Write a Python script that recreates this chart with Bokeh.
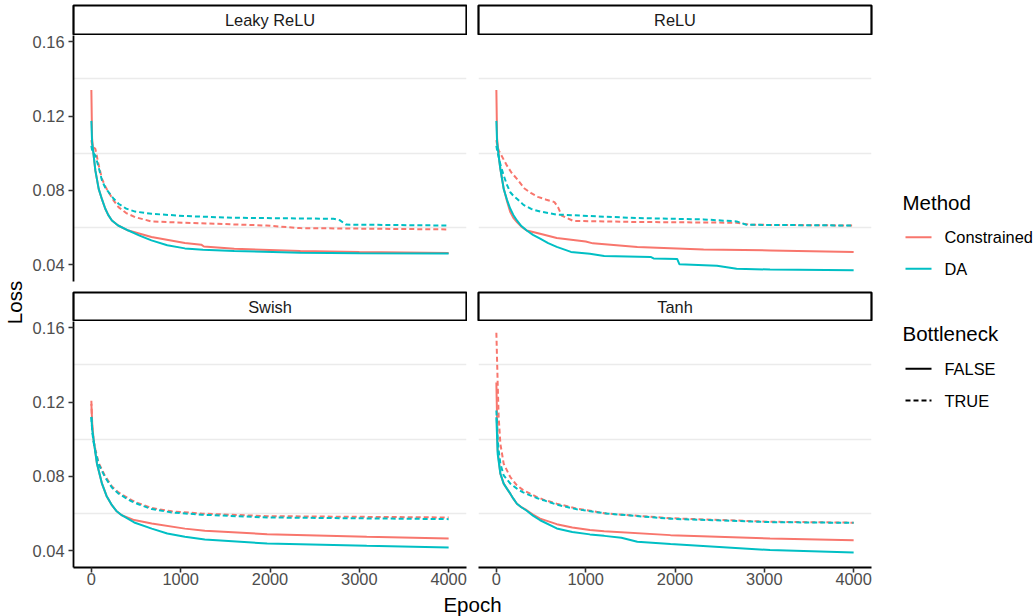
from bokeh.plotting import figure
from bokeh.layouts import row, column
from bokeh.models import Range1d, FixedTicker
from bokeh.embed import file_html
from bokeh.resources import INLINE
from bokeh.core.properties import value

FONT = "Liberation Sans"

# ---------------- data ----------------
activations = ["Leaky ReLU", "ReLU", "Swish", "Tanh"]
methods = ["Constrained", "DA"]
method_colors = ["#F8766D", "#00BFC4"]
bottlenecks = ["FALSE", "TRUE"]
bottleneck_dash = ["solid", "5 3"]
x_ticks = [0, 1000, 2000, 3000, 4000]
x_tick_labels = ["0", "1000", "2000", "3000", "4000"]
y_ticks = [0.04, 0.08, 0.12, 0.16]
y_tick_labels = ["0.04", "0.08", "0.12", "0.16"]
y_grid = [0.06, 0.10, 0.14]

# Leaky ReLU
leaky_con_f_ep = [0, 8, 30, 45, 82, 120, 156, 190, 230, 300, 415, 673, 1047, 1230, 1260, 1600, 2340, 3000, 4000]
leaky_con_f = [0.134, 0.108, 0.0969, 0.0906, 0.0808, 0.075, 0.0701, 0.0667, 0.0638, 0.0611, 0.0584, 0.0549, 0.0517, 0.0508, 0.0498, 0.0486, 0.0474, 0.0468, 0.0463]
leaky_da_f_ep = [0, 8, 30, 45, 82, 120, 156, 190, 230, 300, 415, 540, 673, 850, 1047, 1250, 1600, 2340, 3000, 4000]
leaky_da_f = [0.1174, 0.106, 0.0969, 0.0906, 0.0808, 0.075, 0.0701, 0.0667, 0.0638, 0.0611, 0.0584, 0.0557, 0.0531, 0.0505, 0.0488, 0.048, 0.0474, 0.0465, 0.0462, 0.046]
leaky_con_t_ep = [0, 10, 45, 80, 119, 155, 193, 250, 304, 390, 490, 673, 1047, 1960, 2340, 3080, 4000]
leaky_con_t = [0.107, 0.104, 0.1023, 0.094, 0.0862, 0.0822, 0.079, 0.0745, 0.071, 0.0678, 0.0656, 0.0633, 0.0626, 0.0611, 0.0597, 0.0594, 0.059]
leaky_da_t_ep = [0, 10, 45, 82, 119, 155, 193, 250, 304, 390, 490, 673, 1047, 1578, 2710, 2780, 2850, 4000]
leaky_da_t = [0.104, 0.101, 0.0987, 0.0924, 0.0853, 0.0815, 0.079, 0.0755, 0.0728, 0.0702, 0.0686, 0.0674, 0.0662, 0.0653, 0.0647, 0.064, 0.0616, 0.0611]

# ReLU
relu_con_f_ep = [0, 8, 30, 45, 82, 120, 156, 190, 230, 280, 340, 490, 676, 1000, 1080, 1578, 2320, 3064, 4000]
relu_con_f = [0.134, 0.108, 0.097, 0.0915, 0.081, 0.074, 0.0683, 0.0652, 0.063, 0.0605, 0.0584, 0.0567, 0.0544, 0.0525, 0.0515, 0.0495, 0.0482, 0.0477, 0.0469]
relu_da_f_ep = [0, 8, 30, 45, 82, 120, 156, 190, 230, 280, 340, 410, 490, 580, 676, 835, 1047, 1207, 1727, 1760, 2024, 2050, 2470, 2690, 3064, 4000]
relu_da_f = [0.1174, 0.106, 0.097, 0.0915, 0.0808, 0.0748, 0.0701, 0.0668, 0.0638, 0.0608, 0.0584, 0.0561, 0.054, 0.0516, 0.0496, 0.0469, 0.0459, 0.0447, 0.0442, 0.0434, 0.0431, 0.0402, 0.0394, 0.0379, 0.0374, 0.037]
relu_con_t_ep = [0, 10, 26, 60, 119, 170, 230, 315, 390, 464, 560, 650, 690, 730, 860, 1578, 2690, 2850, 4000]
relu_con_t = [0.107, 0.104, 0.1015, 0.0985, 0.0933, 0.0895, 0.0862, 0.081, 0.0785, 0.0765, 0.075, 0.0737, 0.071, 0.0665, 0.0636, 0.063, 0.0626, 0.0615, 0.0611]
relu_da_t_ep = [0, 10, 26, 50, 82, 120, 156, 190, 230, 304, 390, 490, 676, 1047, 1578, 2320, 2690, 2800, 4000]
relu_da_t = [0.104, 0.101, 0.098, 0.093, 0.088, 0.0828, 0.079, 0.0771, 0.0755, 0.0722, 0.07, 0.0686, 0.067, 0.0662, 0.0651, 0.0644, 0.0633, 0.0615, 0.0611]

# Swish
swish_con_f_ep = [0, 10, 26, 63, 119, 170, 230, 280, 340, 480, 676, 1047, 1270, 1968, 3083, 4000]
swish_con_f = [0.119, 0.108, 0.0993, 0.0868, 0.0761, 0.0695, 0.0645, 0.0614, 0.0591, 0.0565, 0.0546, 0.0519, 0.0507, 0.0489, 0.0475, 0.0466]
swish_da_f_ep = [0, 10, 26, 63, 119, 170, 230, 280, 340, 480, 676, 850, 1047, 1270, 1968, 3083, 4000]
swish_da_f = [0.1118, 0.105, 0.0993, 0.0868, 0.0761, 0.0695, 0.0645, 0.0614, 0.0591, 0.0552, 0.0519, 0.0493, 0.0475, 0.0461, 0.0439, 0.0427, 0.0418]
swish_con_t_ep = [0, 10, 26, 45, 82, 156, 230, 300, 378, 450, 527, 676, 900, 1233, 1968, 4000]
swish_con_t = [0.1207, 0.106, 0.099, 0.0945, 0.0872, 0.08, 0.0746, 0.0715, 0.0692, 0.0672, 0.0656, 0.063, 0.0612, 0.06, 0.0586, 0.0579]
swish_da_t_ep = [0, 10, 26, 45, 82, 156, 230, 300, 378, 450, 527, 676, 900, 1233, 1968, 4000]
swish_da_t = [0.112, 0.104, 0.098, 0.0935, 0.0865, 0.0793, 0.074, 0.0709, 0.0686, 0.0666, 0.065, 0.0624, 0.0606, 0.0594, 0.0579, 0.057]

# Tanh
tanh_con_f_ep = [0, 15, 45, 82, 120, 156, 190, 230, 280, 340, 410, 490, 676, 850, 1047, 1207, 1950, 3064, 4000]
tanh_con_f = [0.1305, 0.0939, 0.0814, 0.0761, 0.0733, 0.0707, 0.068, 0.0653, 0.0634, 0.0618, 0.0594, 0.0573, 0.0543, 0.0525, 0.0511, 0.0505, 0.0484, 0.0466, 0.0457]
tanh_da_f_ep = [0, 15, 45, 82, 120, 156, 190, 230, 280, 340, 410, 490, 676, 850, 1047, 1207, 1400, 1578, 1950, 3064, 4000]
tanh_da_f = [0.1118, 0.092, 0.0814, 0.0761, 0.0733, 0.0707, 0.068, 0.0653, 0.0634, 0.0615, 0.0589, 0.0564, 0.052, 0.0501, 0.0488, 0.048, 0.047, 0.0448, 0.0436, 0.0404, 0.0391]
tanh_con_t_ep = [0, 15, 26, 45, 82, 156, 230, 300, 378, 450, 527, 676, 900, 1233, 1950, 3064, 4000]
tanh_con_t = [0.1573, 0.1296, 0.1118, 0.0975, 0.0868, 0.0796, 0.0752, 0.0726, 0.0707, 0.069, 0.0675, 0.0653, 0.0627, 0.06, 0.0575, 0.0556, 0.0551]
tanh_da_t_ep = [0, 15, 26, 45, 82, 156, 230, 300, 378, 450, 527, 676, 900, 1233, 1950, 3064, 4000]
tanh_da_t = [0.1154, 0.1, 0.0939, 0.0868, 0.0805, 0.0761, 0.0734, 0.0714, 0.0698, 0.0684, 0.0672, 0.0648, 0.0623, 0.06, 0.0572, 0.0554, 0.055]

CURVES = {
    ("Leaky ReLU", "Constrained", "FALSE"): (leaky_con_f_ep, leaky_con_f),
    ("Leaky ReLU", "Constrained", "TRUE"): (leaky_con_t_ep, leaky_con_t),
    ("Leaky ReLU", "DA", "FALSE"): (leaky_da_f_ep, leaky_da_f),
    ("Leaky ReLU", "DA", "TRUE"): (leaky_da_t_ep, leaky_da_t),
    ("ReLU", "Constrained", "FALSE"): (relu_con_f_ep, relu_con_f),
    ("ReLU", "Constrained", "TRUE"): (relu_con_t_ep, relu_con_t),
    ("ReLU", "DA", "FALSE"): (relu_da_f_ep, relu_da_f),
    ("ReLU", "DA", "TRUE"): (relu_da_t_ep, relu_da_t),
    ("Swish", "Constrained", "FALSE"): (swish_con_f_ep, swish_con_f),
    ("Swish", "Constrained", "TRUE"): (swish_con_t_ep, swish_con_t),
    ("Swish", "DA", "FALSE"): (swish_da_f_ep, swish_da_f),
    ("Swish", "DA", "TRUE"): (swish_da_t_ep, swish_da_t),
    ("Tanh", "Constrained", "FALSE"): (tanh_con_f_ep, tanh_con_f),
    ("Tanh", "Constrained", "TRUE"): (tanh_con_t_ep, tanh_con_t),
    ("Tanh", "DA", "FALSE"): (tanh_da_f_ep, tanh_da_f),
    ("Tanh", "DA", "TRUE"): (tanh_da_t_ep, tanh_da_t),
}

# shared (fixed) scales with 5% expansion, like ggplot
all_y = [v for (_, ys) in CURVES.values() for v in ys]
all_x = [v for (xs, _) in CURVES.values() for v in xs]
ylo, yhi = min(all_y), max(all_y)
xlo, xhi = min(all_x), max(all_x)
ypad = 0.05 * (yhi - ylo)
xpad = 0.05 * (xhi - xlo)
YR = (ylo - ypad, yhi + ypad)
XR = (xlo - xpad, xhi + xpad)

# ---------------- layout sizes (pixels) ----------------
LEFT_W, RIGHT_W = 399, 412
LEFT_BL, LEFT_BR = 5, 1
RIGHT_BL, RIGHT_BR = 11, 8
TOP_STRIP_H, TOP_STRIP_PAD = 35, 5
TOP_PANEL_H, TOP_PANEL_BB = 256, 10
BOT_STRIP_H = 30
BOT_PANEL_H, BOT_PANEL_BB = 271, 25
EPOCH_H = 24


def base_fig(width, height, bl, br, bt, bb, xr=None, yr=None,
             xloc=None, yloc=None):
    f = figure(width=width, height=height,
               x_range=xr if xr is not None else Range1d(0, 1),
               y_range=yr if yr is not None else Range1d(0, 1),
               x_axis_location=xloc, y_axis_location=yloc,
               min_border_left=bl, min_border_right=br,
               min_border_top=bt, min_border_bottom=bb,
               output_backend="svg", toolbar_location=None)
    f.outline_line_color = None
    f.background_fill_color = "white"
    f.border_fill_color = "white"
    return f


def style_ticks(ax):
    ax.axis_line_color = "black"
    ax.axis_line_width = 1.8
    ax.major_tick_line_color = "#333333"
    ax.major_tick_line_width = 1.6
    ax.major_tick_out = 5
    ax.major_tick_in = 0
    ax.minor_tick_line_color = None


def style_labels(ax, ticks, labels, standoff):
    ax.ticker = FixedTicker(ticks=ticks)
    ax.major_label_overrides = {t: l for t, l in zip(ticks, labels)}
    ax.major_label_text_font = FONT
    ax.major_label_text_font_size = "16.4px"
    ax.major_label_text_color = "#4D4D4D"
    ax.major_label_standoff = standoff


def panel(act, col, bottom):
    width = LEFT_W if col == 0 else RIGHT_W
    bl = LEFT_BL if col == 0 else RIGHT_BL
    br = LEFT_BR if col == 0 else RIGHT_BR
    height = BOT_PANEL_H if bottom else TOP_PANEL_H
    bb = BOT_PANEL_BB if bottom else TOP_PANEL_BB
    p = base_fig(width, height, bl, br, 0, bb, Range1d(*XR), Range1d(*YR),
                 "below" if bottom else None, "left" if col == 0 else None)
    p.xgrid.visible = False
    p.ygrid.ticker = FixedTicker(ticks=y_grid)
    p.ygrid.grid_line_color = "#EBEBEB"
    p.ygrid.grid_line_width = 1.6
    if bottom:
        ax = p.xaxis[0]
        style_ticks(ax)
        style_labels(ax, x_ticks, x_tick_labels, 0)
    if col == 0:
        # ticks and line only; the tick labels live in the label column
        ay = p.yaxis[0]
        style_ticks(ay)
        ay.ticker = FixedTicker(ticks=y_ticks)
        ay.major_label_overrides = {t: "" for t in y_ticks}
        ay.major_label_standoff = 0
    for mi, m in enumerate(methods):
        for bi, b in enumerate(bottlenecks):
            xs, ys = CURVES[(act, m, b)]
            p.line(xs, ys, line_color=method_colors[mi], line_width=2,
                   line_dash=bottleneck_dash[bi])
    return p


def strip(label, col, height, top):
    width = LEFT_W if col == 0 else RIGHT_W
    bl = LEFT_BL if col == 0 else RIGHT_BL
    br = LEFT_BR if col == 0 else RIGHT_BR
    s = base_fig(width, height, bl, br, top, 1)
    s.xgrid.visible = False
    s.ygrid.visible = False
    s.outline_line_color = "black"
    s.outline_line_width = 2.2
    s.text(x=[0.5], y=[0.5], text=[label], text_align="center",
           text_baseline="middle", text_font=value(FONT),
           text_font_size="16.4px", text_color="#1A1A1A")
    return s


def ylabels(height, top, bottom):
    # a narrow figure that carries only the y tick labels of one panel row
    f = base_fig(40, height, 39, 0, top, bottom, None, Range1d(*YR),
                 None, "left")
    f.xgrid.visible = False
    f.ygrid.visible = False
    ay = f.yaxis[0]
    style_labels(ay, y_ticks, y_tick_labels, 3)
    ay.axis_line_color = None
    ay.major_tick_line_color = None
    ay.minor_tick_line_color = None
    ay.major_tick_out = 0
    ay.major_tick_in = 0
    return f


def blank(width, height):
    f = base_fig(width, height, 0, 0, 0, 0, Range1d(0, width), Range1d(height, 0))
    f.xgrid.visible = False
    f.ygrid.visible = False
    return f


strips_top = [strip(activations[0], 0, TOP_STRIP_H, TOP_STRIP_PAD),
              strip(activations[1], 1, TOP_STRIP_H, TOP_STRIP_PAD)]
panels_top = [panel(activations[0], 0, False), panel(activations[1], 1, False)]
strips_bot = [strip(activations[2], 0, BOT_STRIP_H, 1),
              strip(activations[3], 1, BOT_STRIP_H, 1)]
panels_bot = [panel(activations[2], 0, True), panel(activations[3], 1, True)]

ylab_top = ylabels(TOP_STRIP_H + TOP_PANEL_H, TOP_STRIP_H, TOP_PANEL_BB)
ylab_bot = ylabels(BOT_STRIP_H + BOT_PANEL_H + EPOCH_H, BOT_STRIP_H,
                   BOT_PANEL_BB + EPOCH_H)

# axis titles
loss_fig = blank(28, 616)
loss_fig.text(x=[14], y=[302], text=["Loss"], angle=1.5708, text_align="center",
              text_baseline="middle", text_font=value(FONT),
              text_font_size="20.5px", text_color="black")

epoch_fig = blank(LEFT_W + RIGHT_W, EPOCH_H)
epoch_fig.text(x=[404], y=[12], text=["Epoch"], text_align="center",
               text_baseline="middle", text_font=value(FONT),
               text_font_size="20.5px", text_color="black")

# legend
leg = blank(155, 616)
leg_titles = ["Method", "Bottleneck"]
leg.text(x=[23, 23], y=[201.7, 333.3], text=leg_titles, text_align="left",
         text_baseline="middle", text_font=value(FONT),
         text_font_size="20.5px", text_color="black")
for i, m in enumerate(methods):
    yk = 236.7 + i * 31.6
    leg.line([26, 52], [yk, yk], line_color=method_colors[i], line_width=2)
    leg.text(x=[65], y=[yk], text=[m], text_align="left", text_baseline="middle",
             text_font=value(FONT), text_font_size="16.4px", text_color="black")
for i, b in enumerate(bottlenecks):
    yk = 368.3 + i * 31.7
    leg.line([26, 52], [yk, yk], line_color="black", line_width=2,
             line_dash=bottleneck_dash[i])
    leg.text(x=[65], y=[yk], text=[b], text_align="left", text_baseline="middle",
             text_font=value(FONT), text_font_size="16.4px", text_color="black")

panel_block = column(row(*strips_top), row(*panels_top), row(*strips_bot),
                     row(*panels_bot), epoch_fig)
label_block = column(ylab_top, ylab_bot)
layout = row(loss_fig, label_block, panel_block, leg)

open("out.html", "w").write(file_html(layout, INLINE))
